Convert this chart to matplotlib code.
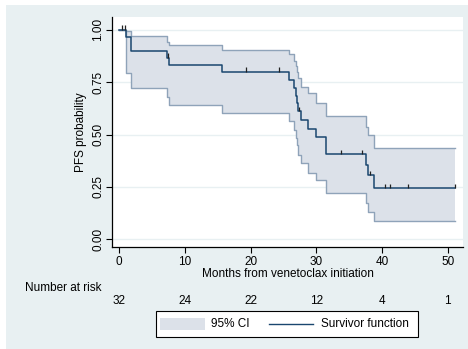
import matplotlib
matplotlib.use("Agg")
import matplotlib.pyplot as plt
from matplotlib.patches import Rectangle
from matplotlib.lines import Line2D

plt.rcParams['font.family'] = ['Liberation Sans', 'DejaVu Sans']

# Kaplan-Meier step points (time in months, survival estimate)
event_times = [0.0, 1.0, 1.88, 7.35, 7.66, 15.7, 25.8, 26.6, 26.9, 27.05, 27.25,
               27.7, 28.7, 29.95, 31.45, 37.6, 37.9, 38.7, 51.1]
survival = [1.0, 0.967, 0.900, 0.867, 0.832, 0.800, 0.762, 0.724, 0.686, 0.648,
            0.610, 0.569, 0.528, 0.488, 0.406, 0.356, 0.305, 0.244, 0.244]
ci_upper = [1.0, 0.996, 0.971, 0.943, 0.927, 0.903, 0.883, 0.851, 0.825, 0.800,
            0.768, 0.728, 0.697, 0.652, 0.588, 0.537, 0.497, 0.437, 0.437]
ci_lower = [1.0, 0.792, 0.722, 0.680, 0.642, 0.604, 0.563, 0.521, 0.482, 0.450,
            0.402, 0.363, 0.318, 0.283, 0.219, 0.175, 0.132, 0.089, 0.089]

# Censored observations (time, survival at that time)
censor_times = [0.4, 0.85, 7.5, 19.3, 24.3, 27.4, 33.8, 36.9, 38.2, 40.5, 41.2, 43.9, 51.1]
censor_surv = [1.0, 1.0, 0.867, 0.800, 0.800, 0.610, 0.406, 0.406, 0.305, 0.244, 0.244, 0.244, 0.244]

# Number at risk table
risk_times = [0, 10, 20, 30, 40, 50]
risk_counts = [32, 24, 22, 12, 4, 1]

x_ticks = [0, 10, 20, 30, 40, 50]
y_ticks = [0.0, 0.25, 0.50, 0.75, 1.00]
y_tick_labels = ["0.00", "0.25", "0.50", "0.75", "1.00"]

W, H = 468, 349
BG = "#e8f0f2"
LINE = "#1a476f"
FILL = "#dce1e9"
EDGE = "#8fa3b9"
FS = 8.5

fig = plt.figure(figsize=(W / 100, H / 100), dpi=100)
fig.patch.set_facecolor("white")


def fx(px):
    return px / W


def fy(py):
    return 1 - py / H


# graph region background
fig.patches.append(Rectangle((fx(6), 0), 1 - fx(6), fy(5), transform=fig.transFigure,
                             facecolor=BG, edgecolor="none", zorder=-10))

ax = fig.add_axes([fx(112), fy(247), fx(463) - fx(112), fy(17) - fy(247)])
ax.set_facecolor("white")
ax.set_xlim(-1.065, 52.3)
ax.set_ylim(-0.0367, 1.0606)

for yv in y_ticks:
    ax.axhline(yv, color=BG, lw=1.0, zorder=0)

ax.fill_between(event_times, ci_lower, ci_upper, step="post", facecolor=FILL,
                edgecolor="none", zorder=1)
ax.step(event_times, ci_upper, where="post", color=EDGE, lw=1.0, zorder=2)
ax.step(event_times, ci_lower, where="post", color=EDGE, lw=1.0, zorder=2)
ax.step(event_times, survival, where="post", color=LINE, lw=1.1, zorder=3)
ax.vlines(censor_times, censor_surv, [s + 0.022 for s in censor_surv],
          color="#222222", lw=0.9, zorder=4)

ax.set_xticks(x_ticks)
ax.set_yticks(y_ticks)
ax.set_yticklabels(y_tick_labels, rotation=90, va="center")
ax.tick_params(axis="both", direction="out", length=4.5, width=0.8, labelsize=FS,
               colors="black", pad=2)
ax.tick_params(axis="y", pad=1)
for side in ["top", "right"]:
    ax.spines[side].set_visible(False)
for side in ["left", "bottom"]:
    ax.spines[side].set_linewidth(0.9)

ax.set_xlabel("Months from venetoclax initiation", fontsize=FS, labelpad=0)
ax.set_ylabel("PFS probability", fontsize=FS)
ax.yaxis.set_label_coords((87 - 112) / 351, 0.5)

# number-at-risk table
fig.text(fx(25), fy(288), "Number at risk", fontsize=FS, ha="left", va="center")
for t, n in zip(risk_times, risk_counts):
    xpix = 119 + t * 6.573
    fig.text(fx(xpix), fy(301), str(n), fontsize=FS, ha="center", va="center")

# legend
fig.patches.append(Rectangle((fx(156), fy(337)), fx(418) - fx(156), fy(311) - fy(337),
                             transform=fig.transFigure, facecolor="white",
                             edgecolor="black", lw=0.8, zorder=5))
fig.patches.append(Rectangle((fx(160), fy(330)), fx(205) - fx(160), fy(318) - fy(330),
                             transform=fig.transFigure, facecolor=FILL,
                             edgecolor="none", zorder=6))
fig.text(fx(211), fy(324), "95% CI", fontsize=FS, ha="left", va="center", zorder=7)
fig.lines.append(Line2D([fx(269), fx(313)], [fy(324), fy(324)], transform=fig.transFigure,
                        color=LINE, lw=1.0, zorder=7))
fig.text(fx(321), fy(324), "Survivor function", fontsize=FS, ha="left", va="center", zorder=7)

fig.savefig("out.png", dpi=100, facecolor=fig.get_facecolor())
